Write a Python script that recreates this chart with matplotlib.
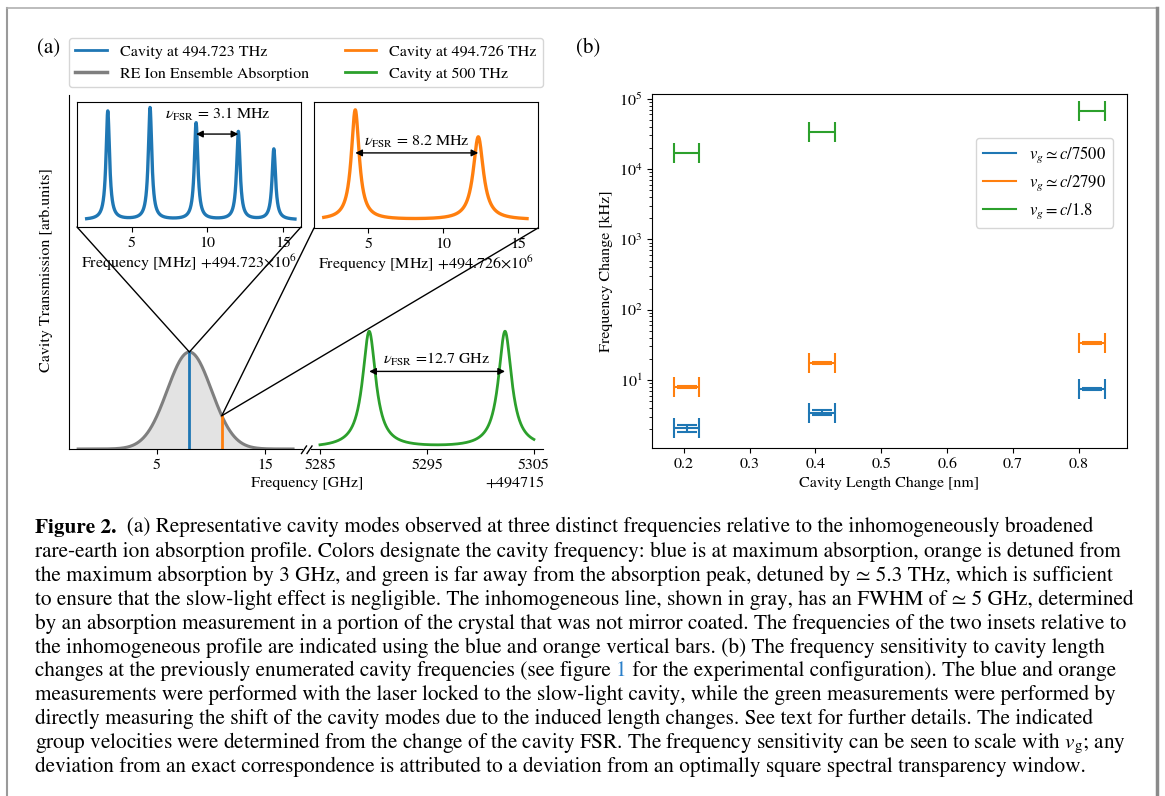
import numpy as np
import matplotlib
matplotlib.use('Agg')
import matplotlib.pyplot as plt
from matplotlib.patches import ConnectionPatch
from matplotlib.lines import Line2D

plt.rcParams['font.family'] = ['STIXGeneral', 'DejaVu Sans']
plt.rcParams['mathtext.fontset'] = 'stix'
plt.rcParams['font.size'] = 11.5

W, H = 1165, 796

# ---------------- data: panel (a) ----------------
# inset 1 (blue cavity at 494.723 THz): peak centres [MHz], heights [rel], HWHM [MHz]
blue_centers = [3.4, 6.2, 9.25, 12.05, 14.4]
blue_heights = [1.0, 1.03, 0.89, 0.81, 0.65]
blue_hwhm = [0.14, 0.14, 0.14, 0.14, 0.14]
blue_span = [2.0, 15.8]
blue_fsr_text = r"$\nu_{\mathrm{FSR}}$ = 3.1 MHz"
# inset 2 (orange cavity at 494.726 THz)
orange_centers = [4.15, 12.35]
orange_heights = [1.0, 0.755]
orange_hwhm = [0.32, 0.41]
orange_span = [2.05, 15.6]
orange_fsr_text = r"$\nu_{\mathrm{FSR}}$ = 8.2 MHz"
# green cavity at 500 THz [GHz, offset 494715]
green_centers = [5289.6, 5302.3]
green_heights = [1.2, 1.2]
green_hwhm = [0.75, 0.75]
green_span = [5285.0, 5305.0]
green_fsr_text = r"$\nu_{\mathrm{FSR}}$ =12.7 GHz"
# RE ion ensemble absorption (gaussian)
ion_center = 8.0
ion_sigma = 2.05
ion_span = [-2.3, 17.6]
bar_blue = 8.0
bar_orange = 11.0

ticks_left = [5, 15]
ticks_right = [5285, 5295, 5305]
ticks_inset = [5, 10, 15]

# ---------------- data: panel (b) ----------------
length_change = [0.205, 0.41, 0.82]
length_err = [0.019, 0.02, 0.02]
blue_df = [2.07, 3.43, 7.45]
blue_df_err = [0.25, 0.30, 0.15]
orange_df = [7.95, 17.3, 34.0]
orange_df_err = [0.30, 0.50, 1.0]
green_df = [16700, 33900, 66800]
labels_b = [r"$v_g \simeq c/7500$", r"$v_g \simeq c/2790$", r"$v_g = c/1.8$"]

C_BLUE, C_ORANGE, C_GREEN, C_GRAY = '#1f77b4', '#ff7f0e', '#2ca02c', '#7f7f7f'


def lorentz_sum(x, centers, heights, hwhm):
    y = np.zeros_like(x)
    for c, h, g in zip(centers, heights, hwhm):
        y += h / (1 + ((x - c) / g) ** 2)
    return y


def gauss(x):
    return np.exp(-0.5 * ((np.asarray(x) - ion_center) / ion_sigma) ** 2)


def fr(x0, y0, x1, y1):
    return [x0 / W, 1 - y1 / H, (x1 - x0) / W, (y1 - y0) / H]


fig = plt.figure(figsize=(W / 100, H / 100), dpi=100)

# ---------- main axes (a), broken x ----------
a1 = fig.add_axes(fr(69, 95, 302, 449))
a2 = fig.add_axes(fr(311, 95, 543, 449))
for ax in (a1, a2):
    ax.set_ylim(0, 3.65)
    ax.set_yticks([])
    ax.spines['top'].set_visible(False)
    ax.spines['right'].set_visible(False)
    ax.patch.set_alpha(0)
a2.spines['left'].set_visible(False)
a1.set_xlim(-3.15, 18.43)
a2.set_xlim(5284.16, 5305.85)
a1.set_xticks(ticks_left)
a2.set_xticks(ticks_right)

xg = np.linspace(ion_span[0], ion_span[1], 400)
a1.fill_between(xg, 0, gauss(xg), color='#e3e3e3', lw=0)
a1.plot(xg, gauss(xg), color=C_GRAY, lw=2.2)
a1.plot([bar_blue, bar_blue], [0, gauss(bar_blue)], color=C_BLUE, lw=2)
a1.plot([bar_orange, bar_orange], [0, gauss(bar_orange)], color=C_ORANGE, lw=2)

xgr = np.linspace(green_span[0], green_span[1], 800)
a2.plot(xgr, lorentz_sum(xgr, green_centers, green_heights, green_hwhm) + 0.01,
        color=C_GREEN, lw=2)
a2.annotate('', xy=(green_centers[1], 0.80), xytext=(green_centers[0], 0.80),
            arrowprops=dict(arrowstyle='<|-|>', color='k', lw=1, shrinkA=0, shrinkB=0,
                            mutation_scale=10))
a2.text(5295.9, 0.92, green_fsr_text, ha='center', va='center', fontsize=11.5)

fig.text(307 / W, 1 - 483 / H, 'Frequency [GHz]', ha='center', va='center', fontsize=11.5)
fig.text(515 / W, 1 - 483 / H, '+494715', ha='center', va='center', fontsize=11.5)
fig.text(46 / W, 1 - 270 / H, 'Cavity Transmission [arb.units]', rotation=90,
         ha='center', va='center', fontsize=11.5)

# ---------- inset 1 (blue) ----------
in1 = fig.add_axes(fr(77, 102, 301, 227))
in1.set_xlim(1.36, 16.2)
in1.set_ylim(-0.065, 1.085)
in1.set_yticks([])
in1.set_xticks(ticks_inset)
xb = np.linspace(blue_span[0], blue_span[1], 1500)
in1.plot(xb, lorentz_sum(xb, blue_centers, blue_heights, blue_hwhm), color=C_BLUE, lw=2.4)
in1.annotate('', xy=(blue_centers[3], 0.79), xytext=(blue_centers[2], 0.79),
             arrowprops=dict(arrowstyle='<|-|>', color='k', lw=1, shrinkA=0, shrinkB=0,
                             mutation_scale=10))
in1.text(10.7, 0.97, blue_fsr_text, ha='center', va='center', fontsize=11.5)
in1.set_xlabel(r'Frequency [MHz] +494.723$\times10^6$', labelpad=2)

# ---------- inset 2 (orange) ----------
in2 = fig.add_axes(fr(314, 102, 538, 228))
in2.set_xlim(1.4, 16.33)
in2.set_ylim(-0.073, 1.073)
in2.set_yticks([])
in2.set_xticks(ticks_inset)
xo = np.linspace(orange_span[0], orange_span[1], 1500)
in2.plot(xo, lorentz_sum(xo, orange_centers, orange_heights, orange_hwhm), color=C_ORANGE, lw=2.4)
in2.annotate('', xy=(orange_centers[1], 0.61), xytext=(orange_centers[0], 0.61),
             arrowprops=dict(arrowstyle='<|-|>', color='k', lw=1, shrinkA=0, shrinkB=0,
                             mutation_scale=10))
in2.text(8.25, 0.71, orange_fsr_text, ha='center', va='center', fontsize=11.5)
in2.set_xlabel(r'Frequency [MHz] +494.726$\times10^6$', labelpad=2)

# connection lines
for ins, corner, target in ((in1, (0, 0), (bar_blue, gauss(bar_blue))),
                            (in1, (1, 0), (bar_blue, gauss(bar_blue))),
                            (in2, (0, 0), (bar_orange, gauss(bar_orange))),
                            (in2, (1, 0), (bar_orange, gauss(bar_orange)))):
    con = ConnectionPatch(xyA=corner, coordsA=ins.transAxes, xyB=target,
                          coordsB=a1.transData, color='k', lw=1)
    fig.add_artist(con)

# legend (a)
hand_a = [Line2D([], [], color=C_BLUE, lw=2), Line2D([], [], color=C_GRAY, lw=2.5),
          Line2D([], [], color=C_ORANGE, lw=2), Line2D([], [], color=C_GREEN, lw=2)]
lab_a = ['Cavity at 494.723 THz', 'RE Ion Ensemble Absorption',
         'Cavity at 494.726 THz', 'Cavity at 500 THz']
fig.legend(hand_a, lab_a, ncol=2, loc='upper left', mode='expand',
           bbox_to_anchor=(69 / W, 1 - 88 / H, 474 / W, 50 / H), borderaxespad=0,
           fontsize=11.5)

# ---------- panel (b) ----------
b = fig.add_axes(fr(652, 94, 1127, 448))
b.set_yscale('log')
b.set_xlim(0.152, 0.873)
b.set_ylim(10 ** 0.033, 10 ** 5.067)
ekw = dict(fmt='none', capsize=7.5, elinewidth=1.5, capthick=1.5)
b.errorbar(length_change, blue_df, xerr=length_err, yerr=blue_df_err, ecolor=C_BLUE, **ekw)
b.errorbar(length_change, orange_df, xerr=length_err, yerr=orange_df_err, ecolor=C_ORANGE, **ekw)
b.errorbar(length_change, green_df, xerr=length_err, ecolor=C_GREEN, **ekw)
b.set_xticks([0.2, 0.3, 0.4, 0.5, 0.6, 0.7, 0.8])
b.set_xlabel('Cavity Length Change [nm]')
b.set_ylabel('Frequency Change [kHz]')
hand_b = [Line2D([], [], color=c, lw=1.5) for c in (C_BLUE, C_ORANGE, C_GREEN)]
b.legend(hand_b, labels_b, loc='upper right', bbox_to_anchor=(1113 / W, 1 - 138 / H),
         bbox_transform=fig.transFigure, borderaxespad=0, fontsize=12)

fig.text(49 / W, 1 - 48 / H, '(a)', ha='center', va='center', fontsize=15)
fig.text(588 / W, 1 - 48 / H, '(b)', ha='center', va='center', fontsize=15)

# ---------- overlay: border, break marks, caption ----------
ov = fig.add_axes([0, 0, 1, 1], zorder=10)
ov.set_xlim(0, W)
ov.set_ylim(H, 0)
ov.axis('off')
ov.patch.set_alpha(0)
ov.plot([7, 7], [8, H + 5], color='#9a9a9a', lw=1.5)
ov.plot([7, 1157], [8, 8], color='#b0b0b0', lw=1.2)
ov.plot([1157, 1157], [8, H + 5], color='#8a8a8a', lw=2.5)
for xc in (304, 309.5):
    ov.plot([xc - 2.5, xc + 2.5], [453.5, 446], color='k', lw=1)

cap_fs = 15.3
cap_x = 35
base0 = 533
step = 23.9
lines = [
    None,
    "rare-earth ion absorption profile. Colors designate the cavity frequency: blue is at maximum absorption, orange is detuned from",
    "the maximum absorption by 3 GHz, and green is far away from the absorption peak, detuned by \u2243 5.3 THz, which is sufficient",
    "to ensure that the slow-light effect is negligible. The inhomogeneous line, shown in gray, has an FWHM of \u2243 5 GHz, determined",
    "by an absorption measurement in a portion of the crystal that was not mirror coated. The frequencies of the two insets relative to",
    "the inhomogeneous profile are indicated using the blue and orange vertical bars. (b) The frequency sensitivity to cavity length",
    None,
    "measurements were performed with the laser locked to the slow-light cavity, while the green measurements were performed by",
    "directly measuring the shift of the cavity modes due to the induced length changes. See text for further details. The indicated",
    r"group velocities were determined from the change of the cavity FSR. The frequency sensitivity can be seen to scale with $v_{\mathrm{g}}$; any",
    "deviation from an exact correspondence is attributed to a deviation from an optimally square spectral transparency window.",
]
for i, s in enumerate(lines):
    y = base0 + i * step
    if i == 0:
        t = ov.text(cap_x, y, "Figure 2.", fontsize=cap_fs, fontweight='bold', va='baseline')
        ov.annotate("  (a) Representative cavity modes observed at three distinct frequencies relative to the inhomogeneously broadened",
                    xy=(1, 0), xycoords=t, va='bottom', ha='left', fontsize=cap_fs)
    elif i == 6:
        t = ov.text(cap_x, y, "changes at the previously enumerated cavity frequencies (see figure ",
                    fontsize=cap_fs, va='baseline')
        t2 = ov.annotate("1", xy=(1, 0), xycoords=t, va='bottom', ha='left', fontsize=cap_fs,
                         color='#2a7fc9')
        ov.annotate(" for the experimental configuration). The blue and orange", xy=(1, 0),
                    xycoords=t2, va='bottom', ha='left', fontsize=cap_fs)
    else:
        ov.text(cap_x, y, s, fontsize=cap_fs, va='baseline')

fig.savefig('out.png', dpi=100)
